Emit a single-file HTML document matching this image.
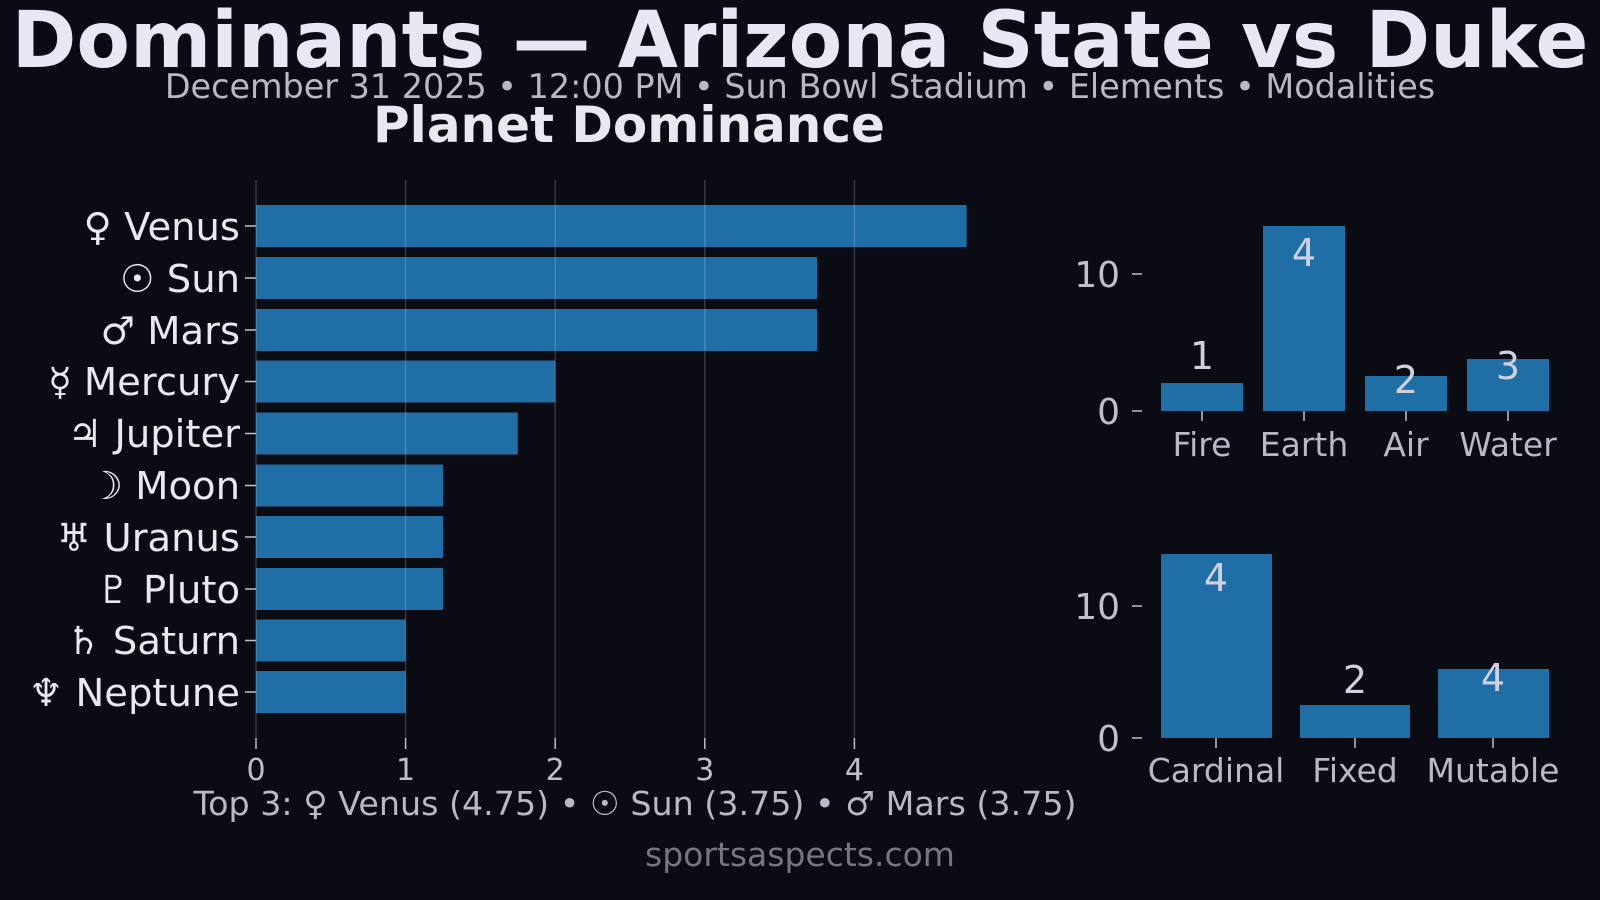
<!DOCTYPE html>
<html><head><meta charset="utf-8"><style>
html,body{margin:0;padding:0;background:#0b0b14;}
svg{display:block;font-family:"DejaVu Sans","Liberation Sans",sans-serif;}
</style></head><body>
<svg width="1600" height="900" viewBox="0 0 1600 900" xmlns="http://www.w3.org/2000/svg">
<rect width="1600" height="900" fill="#0b0b14"/>
<text x="800" y="67" text-anchor="middle" font-size="78" font-weight="bold" fill="#e8e8f4">Dominants — Arizona State vs Duke</text>
<text x="800" y="98" text-anchor="middle" font-size="33.4" fill="#b8b8c6">December 31 2025 • 12:00 PM • Sun Bowl Stadium • Elements • Modalities</text>
<text x="629" y="142" text-anchor="middle" font-size="50" font-weight="bold" fill="#e8e8f4">Planet Dominance</text>
<g fill="#1f6ea6">
<rect x="256" y="205" width="710.6" height="42"/>
<rect x="256" y="257" width="561" height="42"/>
<rect x="256" y="309" width="561" height="42"/>
<rect x="256" y="360.5" width="299.2" height="42"/>
<rect x="256" y="412.5" width="261.8" height="42"/>
<rect x="256" y="464.5" width="187" height="42"/>
<rect x="256" y="516" width="187" height="42"/>
<rect x="256" y="568" width="187" height="42"/>
<rect x="256" y="619.5" width="149.6" height="42"/>
<rect x="256" y="671" width="149.6" height="42"/>
</g>
<!-- left grid over bars -->
<g stroke="#ffffff" stroke-opacity="0.18" stroke-width="1.5">
<line x1="256" y1="180" x2="256" y2="738"/>
<line x1="405.6" y1="180" x2="405.6" y2="738"/>
<line x1="555.2" y1="180" x2="555.2" y2="738"/>
<line x1="704.8" y1="180" x2="704.8" y2="738"/>
<line x1="854.4" y1="180" x2="854.4" y2="738"/>
</g>
<g stroke="#c0c0cc" stroke-width="1.5">
<line x1="245" y1="226" x2="256" y2="226"/><line x1="245" y1="278" x2="256" y2="278"/>
<line x1="245" y1="330" x2="256" y2="330"/><line x1="245" y1="381.5" x2="256" y2="381.5"/>
<line x1="245" y1="433.5" x2="256" y2="433.5"/><line x1="245" y1="485.5" x2="256" y2="485.5"/>
<line x1="245" y1="537" x2="256" y2="537"/><line x1="245" y1="589" x2="256" y2="589"/>
<line x1="245" y1="640.5" x2="256" y2="640.5"/><line x1="245" y1="692" x2="256" y2="692"/>
<line x1="256" y1="738" x2="256" y2="749"/><line x1="405.6" y1="738" x2="405.6" y2="749"/>
<line x1="555.2" y1="738" x2="555.2" y2="749"/><line x1="704.8" y1="738" x2="704.8" y2="749"/>
<line x1="854.4" y1="738" x2="854.4" y2="749"/>
</g>
<g font-size="38.5" fill="#e8e8f4" text-anchor="end">
<text x="240" y="240">♀ Venus</text>
<text x="240" y="292">☉ Sun</text>
<text x="240" y="344">♂ Mars</text>
<text x="240" y="395">☿ Mercury</text>
<text x="240" y="447">♃ Jupiter</text>
<text x="240" y="499">☽ Moon</text>
<text x="240" y="551">♅ Uranus</text>
<text x="240" y="603">♇ Pluto</text>
<text x="240" y="654">♄ Saturn</text>
<text x="240" y="706">♆ Neptune</text>
</g>
<g font-size="30" fill="#c0c0cc" text-anchor="middle">
<text x="256" y="780">0</text><text x="405.6" y="780">1</text><text x="555.2" y="780">2</text>
<text x="704.8" y="780">3</text><text x="854.4" y="780">4</text>
</g>
<text x="635" y="815" text-anchor="middle" font-size="33.3" fill="#b8b8c6">Top 3: ♀ Venus (4.75) • ☉ Sun (3.75) • ♂ Mars (3.75)</text>
<text x="800" y="866" text-anchor="middle" font-size="33" fill="#76767f">sportsaspects.com</text>
<!-- elements -->
<g fill="#1f6ea6">
<rect x="1161" y="383" width="82" height="28"/>
<rect x="1263" y="226" width="82" height="185"/>
<rect x="1365" y="376" width="82" height="35"/>
<rect x="1467" y="359" width="82" height="52"/>
<rect x="1161" y="554" width="111" height="184"/>
<rect x="1300" y="705" width="110" height="33"/>
<rect x="1438" y="669" width="111" height="69"/>
</g>
<g stroke="#c0c0cc" stroke-width="1.5">
<line x1="1132" y1="274" x2="1142" y2="274"/><line x1="1132" y1="411" x2="1142" y2="411"/>
<line x1="1202" y1="411" x2="1202" y2="421"/><line x1="1304" y1="411" x2="1304" y2="421"/>
<line x1="1406" y1="411" x2="1406" y2="421"/><line x1="1508" y1="411" x2="1508" y2="421"/>
<line x1="1132" y1="606" x2="1142" y2="606"/><line x1="1132" y1="738" x2="1142" y2="738"/>
<line x1="1216" y1="738" x2="1216" y2="748"/><line x1="1355" y1="738" x2="1355" y2="748"/>
<line x1="1493" y1="738" x2="1493" y2="748"/>
</g>
<g font-size="36" fill="#c0c0cc" text-anchor="end">
<text x="1120" y="287">10</text><text x="1120" y="424">0</text>
<text x="1120" y="619">10</text><text x="1120" y="751">0</text>
</g>
<g font-size="33" fill="#b8b8c6" text-anchor="middle">
<text x="1202" y="456">Fire</text><text x="1304" y="456">Earth</text>
<text x="1406" y="456">Air</text><text x="1508" y="456">Water</text>
<text x="1216" y="782">Cardinal</text><text x="1355" y="782">Fixed</text><text x="1493" y="782">Mutable</text>
</g>
<g font-size="38" fill="#d0d0de" text-anchor="middle">
<text x="1202" y="369">1</text><text x="1304" y="266">4</text>
<text x="1406" y="393">2</text><text x="1508" y="379">3</text>
<text x="1216" y="591">4</text><text x="1355" y="693">2</text><text x="1493" y="691">4</text>
</g>
</svg>
</body></html>
